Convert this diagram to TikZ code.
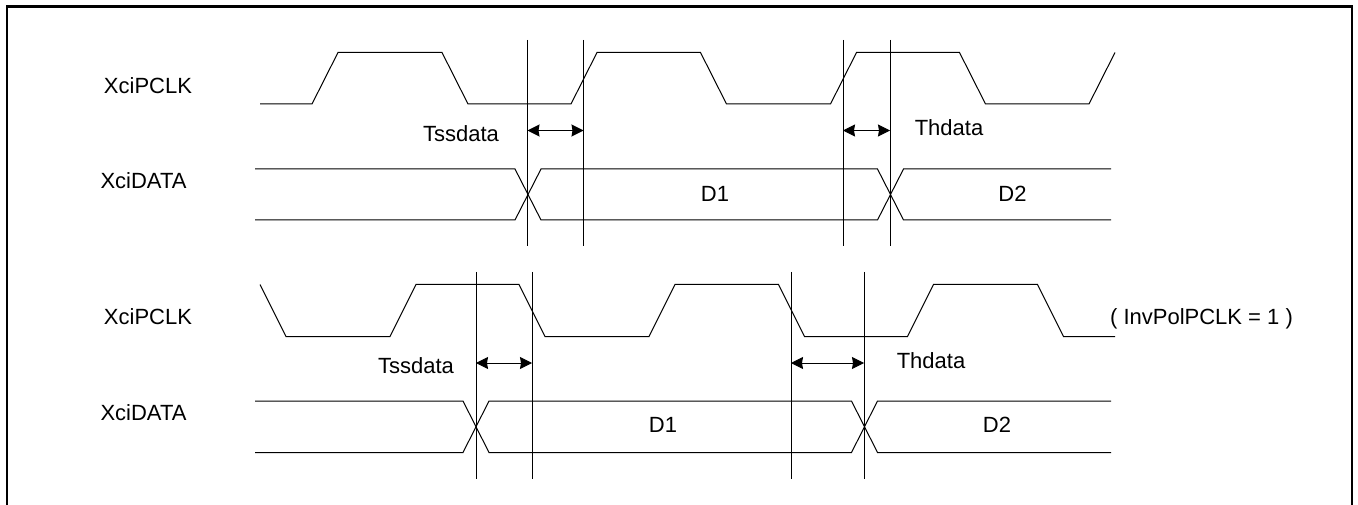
\documentclass[tikz,border=0pt]{standalone}
\usepackage{fontspec}
\setmainfont{Liberation Sans}
\usetikzlibrary{arrows.meta}

\begin{document}
\begin{tikzpicture}[
	x=1pt, y=-1pt,
	frameline/.style={line width=2.2pt},
	wave/.style={line width=1pt, line join=miter},
	guide/.style={line width=1pt},
	span/.style={{Stealth[length=12pt, width=12pt, inset=1pt]}-{Stealth[length=12pt, width=12pt, inset=1pt]}, line width=1pt},
	label/.style={font=\fontsize{22}{26}\selectfont, inner sep=0pt}
	]
	\useasboundingbox (0,0) rectangle (1358,505);
	
	% Frame
	\draw[frameline] (7,505) -- (7,6.5) -- (1352,6.5) -- (1352,505);
	
	% Labels
	\node[label] (clka) at (148,85.5) {XciPCLK};
	\node[label] (dataa) at (143.5,181) {XciDATA};
	\node[label] (tssa) at (461,134) {Tssdata};
	\node[label] (tha) at (949,128) {Thdata};
	\node[label] (dia) at (715,194) {D1};
	\node[label] (dii) at (1012.5,194) {D2};
	
	\node[label] (clkb) at (148,317) {XciPCLK};
	\node[label] (datab) at (143.5,413) {XciDATA};
	\node[label] (tssb) at (416,366) {Tssdata};
	\node[label] (thb) at (931,361) {Thdata};
	\node[label] (dib) at (663,425) {D1};
	\node[label] (diib) at (997,425) {D2};
	\node[label] (pol) at (1201.5,319) {( InvPolPCLK = 1 )};
	
	% Upper clock
	\draw[wave] (260,104) -- (312,104) -- (338,52.5) -- (442,52.5) -- (468,104) -- (571,104) -- (597,52.5) -- (700.5,52.5) -- (726.5,104) -- (830.5,104) -- (856.5,52.5) -- (959.5,52.5) -- (985.5,104) -- (1089,104) -- (1115,52.5);
	
	% Upper data
	\draw[wave] (255,169) -- (515,169) -- (541,220) -- (877.5,220) -- (903.5,169) -- (1111,169);
	\draw[wave] (255,220) -- (515,220) -- (541,169) -- (877.5,169) -- (903.5,220) -- (1111,220);
	
	% Lower clock
	\draw[wave] (260,284.5) -- (286,336.5) -- (390,336.5) -- (416,284.5) -- (519,284.5) -- (545,336.5) -- (649,336.5) -- (675,284.5) -- (778.5,284.5) -- (804.5,336.5) -- (907.5,336.5) -- (933.5,284.5) -- (1037.5,284.5) -- (1063.5,336.5) -- (1115,336.5);
	
	% Lower data
	\draw[wave] (255,401) -- (463,401) -- (489,452.5) -- (851.5,452.5) -- (877.5,401) -- (1111,401);
	\draw[wave] (255,452.5) -- (463,452.5) -- (489,401) -- (851.5,401) -- (877.5,452.5) -- (1111,452.5);
	
	% Guides
	\foreach \name/\xpos in {a/527.5, b/583.5, c/843, d/890} {
		\coordinate (top\name) at (\xpos,40);
		\coordinate (mid\name) at (\xpos,130.5);
		\coordinate (bot\name) at (\xpos,246.5);
		\draw[guide] (top\name) -- (bot\name);
	}
	\foreach \name/\xpos in {e/476, f/532, g/791, h/864} {
		\coordinate (top\name) at (\xpos,272);
		\coordinate (mid\name) at (\xpos,363);
		\coordinate (bot\name) at (\xpos,479);
		\draw[guide] (top\name) -- (bot\name);
	}
	
	% Arrows
	\draw[span] (mida) -- (midb);
	\draw[span] (midc) -- (midd);
	\draw[span] (mide) -- (midf);
	\draw[span] (midg) -- (midh);
	
\end{tikzpicture}
\end{document}
